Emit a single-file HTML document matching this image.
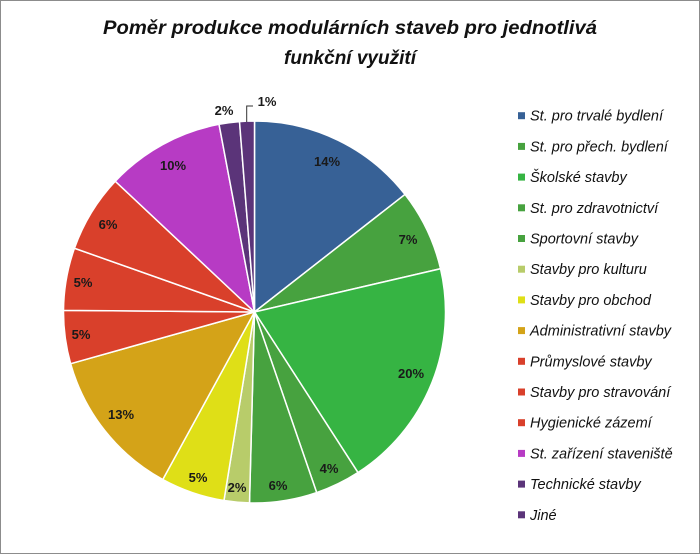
<!DOCTYPE html>
<html><head><meta charset="utf-8"><style>
html,body{margin:0;padding:0;background:#fff}
svg{display:block}
text{font-family:"Liberation Sans",sans-serif}
</style></head><body>
<svg width="700" height="554" viewBox="0 0 700 554" xmlns="http://www.w3.org/2000/svg">
<rect x="0.5" y="0.5" width="699" height="553" fill="#fff" stroke="#8c8c8c"/>
<text x="350" y="34" font-size="19" font-weight="bold" font-style="italic" text-anchor="middle" textLength="494" lengthAdjust="spacingAndGlyphs" fill="#111">Poměr produkce modulárních staveb pro jednotlivá</text>
<text x="350" y="64" font-size="19" font-weight="bold" font-style="italic" text-anchor="middle" fill="#111">funkční využití</text>
<g id="pie" stroke="#fff" stroke-width="1.5"></g>
<g font-size="13" font-weight="bold" fill="#1a1a1a" text-anchor="middle">
<text x="327" y="166">14%</text><text x="408" y="244">7%</text><text x="411" y="378">20%</text>
<text x="329" y="473">4%</text><text x="278" y="490">6%</text><text x="237" y="492">2%</text>
<text x="198" y="482">5%</text><text x="121" y="419">13%</text><text x="81" y="339">5%</text>
<text x="83" y="287">5%</text><text x="108" y="229">6%</text><text x="173" y="170">10%</text>
<text x="224" y="115">2%</text><text x="267" y="106">1%</text>
</g>
<polyline points="246.7,122 246.7,106 253,106" fill="none" stroke="#333" stroke-width="1"/>
<g id="leg" font-size="14.5" font-style="italic" fill="#111"></g>
<script>
var cx=254.5,cy=312,r=191;
var b=[0,52,76.9,147.2,161,181.5,189.2,208.7,254.3,270.5,289.5,313.2,349.3,355.5,360];
var c=["#376196","#47a23f","#36b443","#47a23f","#47a23f","#b8cc6a","#dfdf17","#d4a318","#d9402b","#d9402b","#d9402b","#b73bc4","#5b3479","#5b3479"];
var ns="http://www.w3.org/2000/svg",g=document.getElementById("pie");
function pt(a){a=a*Math.PI/180;return [cx+r*Math.sin(a),cy-r*Math.cos(a)];}
for(var i=0;i<14;i++){var p=pt(b[i]),q=pt(b[i+1]);var e=document.createElementNS(ns,"path");
e.setAttribute("d","M"+cx+","+cy+"L"+p[0]+","+p[1]+"A"+r+","+r+" 0 "+((b[i+1]-b[i])>180?1:0)+" 1 "+q[0]+","+q[1]+"Z");
e.setAttribute("fill",c[i]);g.appendChild(e);}
var L=["St. pro trvalé bydlení","St. pro přech. bydlení","Školské stavby","St. pro zdravotnictví","Sportovní stavby","Stavby pro kulturu","Stavby pro obchod","Administrativní stavby","Průmyslové stavby","Stavby pro stravování","Hygienické zázemí","St. zařízení staveniště","Technické stavby","Jiné"];
var lg=document.getElementById("leg");
for(var i=0;i<14;i++){var y=115.7+i*30.7;var s=document.createElementNS(ns,"rect");
s.setAttribute("x",518);s.setAttribute("y",y-3.5);s.setAttribute("width",7);s.setAttribute("height",7);s.setAttribute("fill",c[i]);lg.appendChild(s);
var t=document.createElementNS(ns,"text");t.setAttribute("x",530);t.setAttribute("y",y+5);t.textContent=L[i];lg.appendChild(t);}
</script>
</svg>
</body></html>
